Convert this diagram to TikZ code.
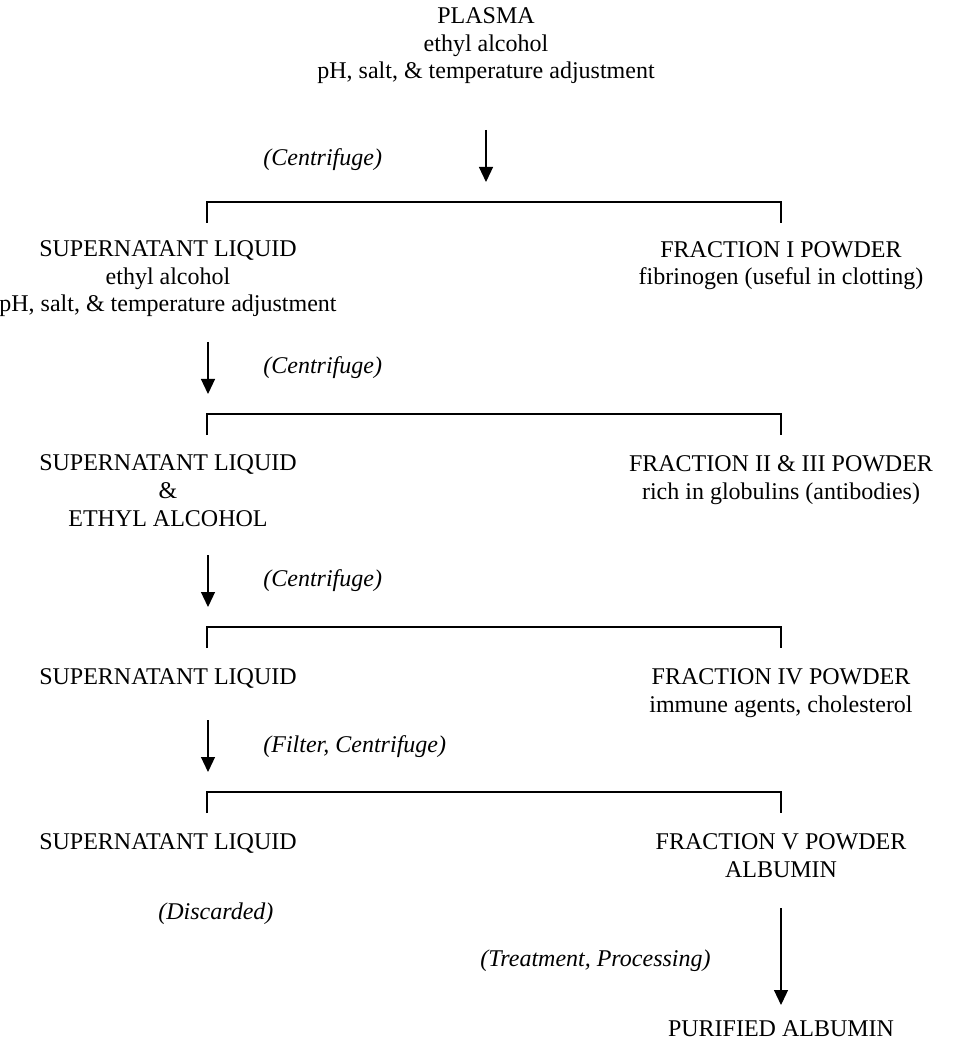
\documentclass[tikz,border=0pt]{standalone}
\usepackage{fontspec}
\setmainfont{Liberation Serif}
\usetikzlibrary{arrows.meta}

\begin{document}
\begin{tikzpicture}[
  x=0.5pt, y=-0.5pt,
  txt/.style={align=center,anchor=base,inner sep=0pt,
              font=\fontsize{12pt}{13.8pt}\selectfont},
  lbl/.style={anchor=base west,inner sep=0pt,
              font=\fontsize{12pt}{13.8pt}\selectfont\itshape},
  brk/.style={draw,line width=0.7pt},
  flow/.style={draw,line width=0.6pt,-{Triangle[length=7.5pt,width=7pt]}},
]
  \useasboundingbox (0,0) rectangle (971,1042);

  % starting material (base = last line)
  \node[txt] (plasma) at (486,79) {PLASMA\\ethyl alcohol\\pH, salt, \& temperature adjustment};

  % separations
  \foreach \n/\y in {1/202,2/414,3/627,4/792} {
    \coordinate (b\n l) at (207,\y);
    \coordinate (b\n r) at (781,\y);
    \draw[brk] (207,\y+21) -- (b\n l) -- (b\n r) -- (781,\y+21);
  }

  % left column
  \node[txt] (sup1) at (168,312) {SUPERNATANT LIQUID\\ethyl alcohol\\pH, salt, \& temperature adjustment};
  \node[txt] (sup2) at (168,526) {SUPERNATANT LIQUID\\\&\\ETHYL ALCOHOL};
  \node[txt] (sup3) at (168,684) {SUPERNATANT LIQUID};
  \node[txt] (sup4) at (168,849) {SUPERNATANT LIQUID};

  % right column
  \node[txt] (fr1) at (781,285) {FRACTION I POWDER\\fibrinogen (useful in clotting)};
  \node[txt] (fr2) at (781,499) {FRACTION II \& III POWDER\\rich in globulins (antibodies)};
  \node[txt] (fr3) at (781,712) {FRACTION IV POWDER\\immune agents, cholesterol};
  \node[txt] (fr4) at (781,877) {FRACTION V POWDER\\ALBUMIN};
  \node[txt] (pure) at (781,1036) {PURIFIED ALBUMIN};

  % process steps
  \node[lbl] (cf1) at (263,166) {(Centrifuge)};
  \node[lbl] (cf2) at (263,374) {(Centrifuge)};
  \node[lbl] (cf3) at (263,586) {(Centrifuge)};
  \node[lbl] (cf4) at (263,752) {(Filter, Centrifuge)};
  \node[lbl] (disc) at (158,919) {(Discarded)};
  \node[lbl] (treat) at (480,966) {(Treatment, Processing)};

  % arrows
  \coordinate (a1s) at (486,130); \coordinate (a1e) at (486,182);
  \coordinate (a2s) at (208,342); \coordinate (a2e) at (208,394);
  \coordinate (a3s) at (208,555); \coordinate (a3e) at (208,607);
  \coordinate (a4s) at (208,720); \coordinate (a4e) at (208,772);
  \coordinate (a5s) at (781,908); \coordinate (a5e) at (781,1005);
  \foreach \a in {a1,a2,a3,a4,a5}
    \draw[flow] (\a s) -- (\a e);
\end{tikzpicture}
\end{document}
